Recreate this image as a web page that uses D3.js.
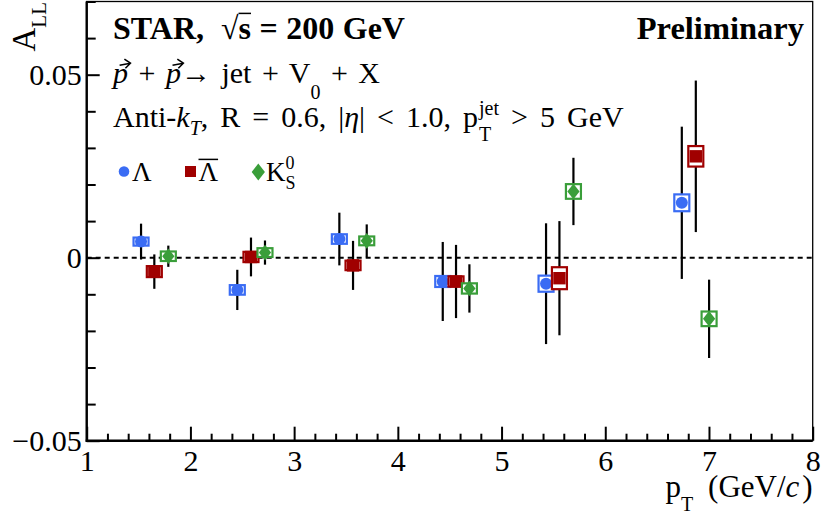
<!DOCTYPE html>
<html lang="en">
<head>
  <meta charset="UTF-8">
  <title>A_LL vs pT - STAR preliminary</title>
  <script src="https://d3js.org/d3.v7.min.js"></script>
  <style>
    body { margin: 0; background: #fff; }
    svg { display: block; font-family: "Liberation Serif", "Times New Roman", serif; }
    text { white-space: pre; }
  </style>
</head>
<body>
  <svg width="822" height="521"></svg>
  <script>
    // data
    var ptLambda   = [1.524, 2.452, 3.436, 4.433, 5.429, 6.738];
    var allLambda  = [0.0044, -0.0088, 0.0051, -0.0065, -0.0071, 0.0150];
    var statLambda = [0.0049, 0.0055, 0.0072, 0.0108, 0.0165, 0.0208];
    var sysLambda  = [0.0011, 0.0013, 0.0013, 0.0015, 0.0022, 0.0023];

    var ptAntiLambda   = [1.652, 2.584, 3.568, 4.561, 5.558, 6.873];
    var allAntiLambda  = [-0.0038, 0.0002, -0.0021, -0.0065, -0.0056, 0.0277];
    var statAntiLambda = [0.0047, 0.0053, 0.0067, 0.0100, 0.0156, 0.0207];
    var sysAntiLambda  = [0.0015, 0.0014, 0.0013, 0.0014, 0.0030, 0.0028];

    var ptK0S   = [1.787, 2.719, 3.700, 4.690, 5.693, 7.001];
    var allK0S  = [0.0004, 0.0014, 0.0046, -0.0084, 0.0181, -0.0167];
    var statK0S = [0.0029, 0.0033, 0.0045, 0.0066, 0.0092, 0.0107];
    var sysK0S  = [0.0013, 0.0012, 0.0012, 0.0014, 0.0020, 0.0020];

    var xTicks = [1, 2, 3, 4, 5, 6, 7, 8];
    var yTicks = [-0.05, 0, 0.05];
    var yTickLabels = ["\u22120.05", "0", "0.05"];

    var series = [
      {name: "Lambda", pt: ptLambda, val: allLambda, stat: statLambda, sys: sysLambda, color: "#3a6cf4", shape: "circle"},
      {name: "AntiLambda", pt: ptAntiLambda, val: allAntiLambda, stat: statAntiLambda, sys: sysAntiLambda, color: "#a00000", shape: "square"},
      {name: "K0S", pt: ptK0S, val: allK0S, stat: statK0S, sys: sysK0S, color: "#3a9e3a", shape: "diamond"}
    ];

    var svg = d3.select("svg");
    var plotL = 86.7, plotR = 812.7, plotT = 1.5, plotB = 440.7;

    var x = d3.scaleLinear().domain([1, 8]).range([plotL, plotR]);
    var y = d3.scaleLinear().domain([-0.05, 0.07]).range([plotB, plotT]);

    // frame (thin top/right)
    svg.append("rect")
      .attr("x", plotL).attr("y", plotT).attr("width", plotR - plotL).attr("height", plotB - plotT)
      .attr("fill", "none").attr("stroke", "#000").attr("stroke-width", 1.3);

    // minor ticks
    var xMinor = d3.range(1, 8.001, 0.2).filter(function(v) { return Math.abs(v - Math.round(v)) > 0.01; });
    var yMinor = d3.range(-0.05, 0.0701, 0.01).filter(function(v) { return Math.abs(v / 0.05 - Math.round(v / 0.05)) > 0.01; });

    svg.append("g")
      .attr("transform", "translate(0," + plotB + ")")
      .call(d3.axisBottom(x).tickValues(xMinor).tickSize(-7).tickSizeOuter(0).tickFormat(""))
      .call(function(g) { g.select(".domain").remove(); });
    svg.append("g")
      .attr("transform", "translate(" + plotL + ",0)")
      .call(d3.axisLeft(y).tickValues(yMinor).tickSize(-9).tickSizeOuter(0).tickFormat(""))
      .call(function(g) { g.select(".domain").remove(); });

    // major ticks + labels
    var xAxis = svg.append("g")
      .attr("transform", "translate(0," + plotB + ")")
      .call(d3.axisBottom(x).tickValues(xTicks).tickSize(-14).tickSizeOuter(0).tickPadding(9).tickFormat(d3.format("d")));
    var yAxis = svg.append("g")
      .attr("transform", "translate(" + plotL + ",0)")
      .call(d3.axisLeft(y).tickValues(yTicks).tickSize(-13).tickSizeOuter(0).tickPadding(5)
        .tickFormat(function(d, i) { return yTickLabels[i]; }));

    [xAxis, yAxis].forEach(function(a) {
      a.attr("font-family", null);
      a.selectAll("text").attr("fill", "#000").style("font-size", "30px");
      a.select(".domain").remove();
    });
    svg.selectAll(".tick line").attr("stroke", "#000").attr("stroke-width", 2);

    // thick axis lines
    svg.append("line").attr("x1", plotL).attr("x2", plotL).attr("y1", plotT).attr("y2", plotB + 1)
      .attr("stroke", "#000").attr("stroke-width", 2.4);
    svg.append("line").attr("x1", plotL - 1).attr("x2", plotR).attr("y1", plotB).attr("y2", plotB)
      .attr("stroke", "#000").attr("stroke-width", 2.4);

    // zero line
    svg.append("line")
      .attr("x1", x(1)).attr("x2", x(8)).attr("y1", y(0)).attr("y2", y(0))
      .attr("stroke", "#000").attr("stroke-width", 2).attr("stroke-dasharray", "5,4");

    function marker(g, shape, cx, cy, r, color) {
      if (shape === "circle") {
        g.append("circle").attr("cx", cx).attr("cy", cy).attr("r", r).attr("fill", color);
      } else if (shape === "square") {
        g.append("rect").attr("x", cx - r).attr("y", cy - r).attr("width", 2 * r).attr("height", 2 * r).attr("fill", color);
      } else {
        var w = r * 1.02, h = r * 1.3;
        g.append("path")
          .attr("d", "M" + cx + "," + (cy - h) + "L" + (cx + w) + "," + cy + "L" + cx + "," + (cy + h) + "L" + (cx - w) + "," + cy + "Z")
          .attr("fill", color);
      }
    }

    // points: stat bar, sys box, marker
    var boxHalf = 7.5;
    var gPts = svg.append("g");
    series.forEach(function(s) {
      s.pt.forEach(function(p, i) {
        var cx = x(p), v = s.val[i];
        gPts.append("line")
          .attr("x1", cx).attr("x2", cx)
          .attr("y1", y(v + s.stat[i])).attr("y2", y(v - s.stat[i]))
          .attr("stroke", "#000").attr("stroke-width", 2.2);
        gPts.append("rect")
          .attr("x", cx - boxHalf).attr("width", 2 * boxHalf)
          .attr("y", y(v + s.sys[i])).attr("height", y(v - s.sys[i]) - y(v + s.sys[i]))
          .attr("fill", "#fff").attr("stroke", s.color).attr("stroke-width", 2.2);
        marker(gPts, s.shape, cx, y(v), s.shape === "square" ? 6.2 : 6, s.color);
      });
    });

    // rich text helper: parts laid out left to right
    // p.gap adds room before a part, p.stack puts it above/below the previous one
    function rich(parent, px, py, parts, anchor, rot, ws) {
      var g = parent.append("g").attr("transform", "translate(" + px + "," + py + ")" + (rot ? " rotate(" + rot + ")" : ""));
      var inner = g.append("g");
      var cx = 0, lastStart = 0, decos = [];
      parts.forEach(function(p) {
        var start = p.stack ? lastStart : cx + (p.gap || 0);
        var t = inner.append("text")
          .attr("x", start).attr("y", p.dy || 0)
          .style("font-size", p.s + "px")
          .style("font-style", p.i ? "italic" : "normal")
          .style("font-weight", p.b ? "bold" : "normal")
          .style("word-spacing", (ws || 0) + "px")
          .text(p.t);
        var w = t.node().getComputedTextLength();
        if (p.deco) decos.push({type: p.deco, x: start, w: w, s: p.s, dy: p.dy || 0});
        lastStart = start;
        cx = Math.max(cx, start + w);
      });
      decos.forEach(function(d) {
        if (d.type === "arrow") {
          var yA = d.dy - 0.66 * d.s, x0 = d.x + 0.22 * d.s, x1 = d.x + d.w + 0.08 * d.s;
          inner.append("path")
            .attr("d", "M" + x0 + "," + (yA + 2) + "L" + x1 + "," + yA +
                       "M" + (x1 - 6) + "," + (yA - 4) + "L" + x1 + "," + yA + "L" + (x1 - 5) + "," + (yA + 5))
            .attr("fill", "none").attr("stroke", "#000").attr("stroke-width", 1.6);
        } else if (d.type === "bar") {
          inner.append("line")
            .attr("x1", d.x).attr("x2", d.x + d.w)
            .attr("y1", d.dy - 0.8 * d.s).attr("y2", d.dy - 0.8 * d.s)
            .attr("stroke", "#000").attr("stroke-width", 1.5);
        }
      });
      if (anchor === "end") inner.attr("transform", "translate(" + (-cx) + ",0)");
      return cx;
    }

    var txt = svg.append("g").attr("fill", "#000");

    // y axis title
    rich(txt, 35, 2, [{t: "A", s: 33}, {t: "LL", s: 21, dy: 11}], "end", -90);

    // x axis title
    rich(txt, 812.7, 497, [
      {t: "p", s: 31}, {t: "T", s: 20, dy: 14}, {t: "(GeV/", s: 31, gap: 15}, {t: "c", s: 31, i: 1}, {t: ")", s: 31, gap: 3}
    ], "end");

    // header
    rich(txt, 113, 39, [{t: "STAR,  ", s: 32, b: 1}, {t: "\u221a", s: 32}, {t: "s", s: 32, b: 1, deco: "bar"}, {t: " = 200 GeV", s: 32, b: 1}], null, 0, 0.5);
    rich(txt, 804, 39, [{t: "Preliminary", s: 32.5, b: 1}], "end");

    rich(txt, 113, 83, [
      {t: "p", s: 30, i: 1, deco: "arrow"}, {t: " + ", s: 30}, {t: "p", s: 30, i: 1, deco: "arrow"},
      {t: "\u2192 jet + V", s: 30}, {t: "0", s: 20, dy: 16}, {t: " + X", s: 30}
    ], null, 0, 3);

    rich(txt, 113, 127, [
      {t: "Anti-", s: 30}, {t: "k", s: 30, i: 1}, {t: "T", s: 20, i: 1, dy: 8},
      {t: ", R = 0.6, |", s: 30}, {t: "\u03b7", s: 30, i: 1}, {t: "| < 1.0, p", s: 30},
      {t: "T", s: 20, dy: 14, gap: 1}, {t: "jet", s: 20, dy: -12, stack: 1}, {t: " > 5 GeV", s: 30}
    ], null, 0, 4.5);

    // legend
    var leg = svg.append("g");
    marker(leg, "circle", 124, 171.5, 5.3, series[0].color);
    rich(txt, 132, 181, [{t: "\u039b", s: 27}]);
    marker(leg, "square", 190.5, 171.5, 5.5, series[1].color);
    rich(txt, 198.5, 181, [{t: "\u039b", s: 27, deco: "bar"}]);
    marker(leg, "diamond", 258.3, 172, 6.5, series[2].color);
    rich(txt, 266, 181, [{t: "K", s: 27}, {t: "S", s: 18, dy: 8}, {t: "0", s: 18, dy: -12, stack: 1}]);
  </script>
</body>
</html>
